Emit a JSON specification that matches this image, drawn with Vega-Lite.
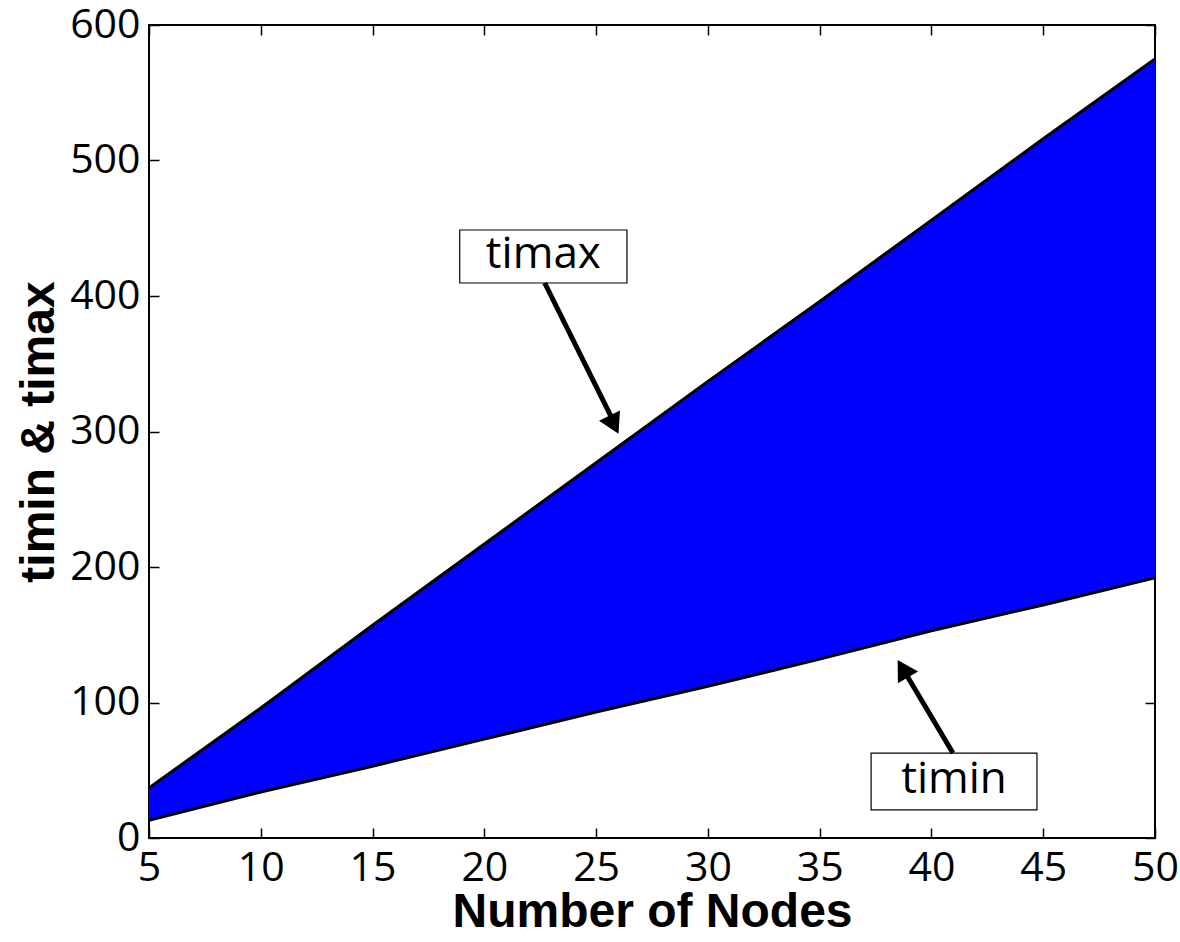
{
  "$schema": "https://vega.github.io/schema/vega-lite/v6.json",
  "autosize": {"type": "none"},
  "width": 1006,
  "height": 813,
  "padding": {"left": 149, "top": 25, "right": 25, "bottom": 104},
  "background": "white",
  "config": {
    "view": {"stroke": "black", "strokeWidth": 2},
    "axis": {
      "domain": false,
      "grid": false,
      "tickColor": "black",
      "tickWidth": 1.5,
      "tickSize": -10,
      "labelFont": "Open Sans",
      "labelFontSize": 41,
      "labelColor": "black",
      "titleFont": "Liberation Sans",
      "titleFontSize": 48,
      "titleFontWeight": "bold",
      "titleColor": "black"
    }
  },
  "datasets": {
    "series": [
      {"n": 5, "timin": 13, "timax": 37},
      {"n": 10, "timin": 34, "timax": 96},
      {"n": 15, "timin": 53, "timax": 157},
      {"n": 20, "timin": 73, "timax": 217},
      {"n": 25, "timin": 93, "timax": 277},
      {"n": 30, "timin": 112, "timax": 337},
      {"n": 35, "timin": 132, "timax": 396},
      {"n": 40, "timin": 153, "timax": 456},
      {"n": 45, "timin": 172, "timax": 516},
      {"n": 50, "timin": 192, "timax": 575}
    ],
    "boxes": [
      {"label": "timax", "x1": 18.9, "x2": 26.38, "y1": 409.6, "y2": 448.7, "cx": 22.64, "cy": 429.2},
      {"label": "timin", "x1": 37.3, "x2": 44.72, "y1": 20.7, "y2": 62.7, "cx": 41.01, "cy": 41.7}
    ],
    "arrows": [
      {"label": "timax", "x1": 22.7, "y1": 409.6, "x2": 25.85, "y2": 305},
      {"label": "timin", "x1": 40.96, "y1": 62.7, "x2": 38.7, "y2": 125.5}
    ],
    "heads": [
      {"label": "timax", "hx": 25.8, "hy": 305.0},
      {"label": "timin", "hx": 38.72, "hy": 125.0}
    ]
  },
  "resolve": {"axis": {"x": "independent", "y": "independent"}},
  "layer": [
    {
      "data": {"name": "series"},
      "mark": {"type": "area", "color": "#0000FF", "opacity": 1},
      "encoding": {
        "x": {"field": "n", "type": "quantitative",
              "scale": {"domain": [5, 50], "nice": false, "zero": false},
              "axis": {"orient": "bottom", "title": "Number of Nodes", "values": [5,10,15,20,25,30,35,40,45,50], "labelPadding": 20, "titlePadding": 0, "labelFlush": false}},
        "y": {"field": "timax", "type": "quantitative",
              "scale": {"domain": [0, 600], "nice": false},
              "axis": {"orient": "left", "title": "timin & timax", "values": [0,100,200,300,400,500,600], "labelPadding": 19, "titlePadding": 6}},
        "y2": {"field": "timin"}
      }
    },
    {
      "data": {"name": "series"},
      "mark": {"type": "line", "color": "black", "strokeWidth": 3},
      "encoding": {
        "x": {"field": "n", "type": "quantitative",
              "axis": {"orient": "top", "title": null, "labels": false, "values": [5,10,15,20,25,30,35,40,45,50]}},
        "y": {"field": "timax", "type": "quantitative",
              "axis": {"orient": "right", "title": null, "labels": false, "values": [0,100,200,300,400,500,600]}}
      }
    },
    {
      "data": {"name": "series"},
      "mark": {"type": "line", "color": "black", "strokeWidth": 3},
      "encoding": {
        "x": {"field": "n", "type": "quantitative", "axis": null},
        "y": {"field": "timin", "type": "quantitative", "axis": null}
      }
    },
    {
      "data": {"name": "boxes"},
      "mark": {"type": "rect", "fill": "white", "stroke": "black", "strokeWidth": 1.2},
      "encoding": {
        "x": {"field": "x1", "type": "quantitative", "axis": null},
        "x2": {"field": "x2"},
        "y": {"field": "y1", "type": "quantitative", "axis": null},
        "y2": {"field": "y2"}
      }
    },
    {
      "data": {"name": "boxes"},
      "mark": {"type": "text", "font": "Open Sans", "fontSize": 44, "color": "black", "align": "center", "baseline": "middle", "dy": -1},
      "encoding": {
        "x": {"field": "cx", "type": "quantitative", "axis": null},
        "y": {"field": "cy", "type": "quantitative", "axis": null},
        "text": {"field": "label"}
      }
    },
    {
      "data": {"name": "arrows"},
      "mark": {"type": "rule", "color": "black", "strokeWidth": 5},
      "encoding": {
        "x": {"field": "x1", "type": "quantitative", "axis": null},
        "y": {"field": "y1", "type": "quantitative", "axis": null},
        "x2": {"field": "x2"},
        "y2": {"field": "y2"}
      }
    },
    {
      "data": {"name": "heads"},
      "transform": [{"filter": "datum.label == 'timax'"}],
      "mark": {"type": "point", "shape": "triangle-up", "filled": true, "color": "black", "opacity": 1, "size": 550, "angle": 153.7},
      "encoding": {
        "x": {"field": "hx", "type": "quantitative", "axis": null},
        "y": {"field": "hy", "type": "quantitative", "axis": null}
      }
    },
    {
      "data": {"name": "heads"},
      "transform": [{"filter": "datum.label == 'timin'"}],
      "mark": {"type": "point", "shape": "triangle-up", "filled": true, "color": "black", "opacity": 1, "size": 550, "angle": 329.5},
      "encoding": {
        "x": {"field": "hx", "type": "quantitative", "axis": null},
        "y": {"field": "hy", "type": "quantitative", "axis": null}
      }
    }
  ]
}
